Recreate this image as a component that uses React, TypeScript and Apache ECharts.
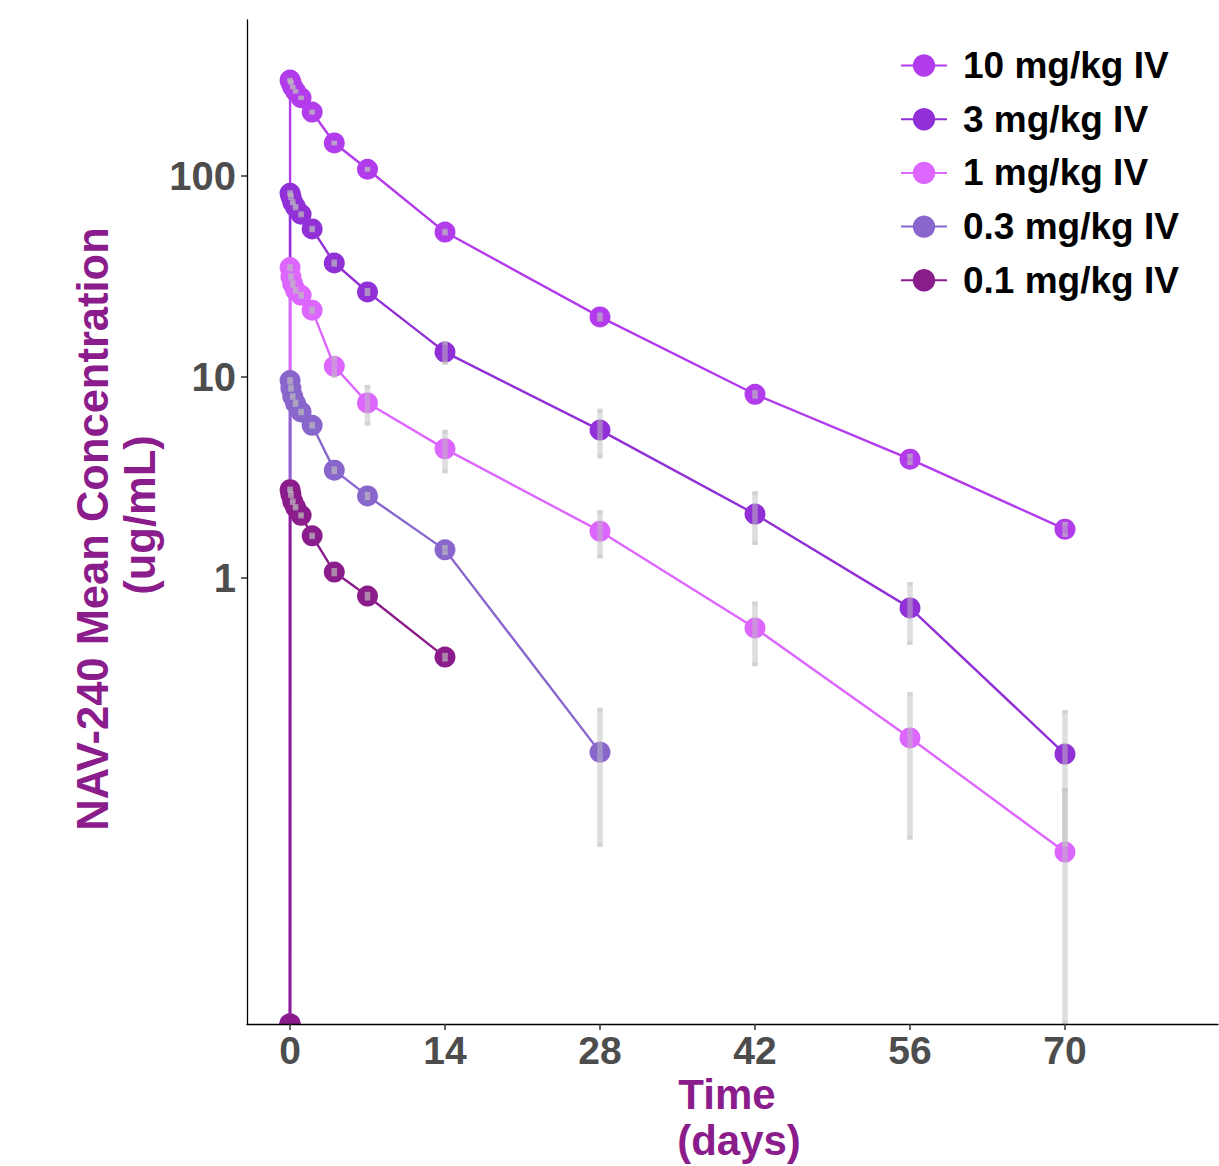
import React, { useEffect, useRef } from "react";
import * as echarts from "echarts";

// Sampling times (days)
const times = [0, 0.007, 0.083, 0.25, 0.5, 1, 2, 4, 7, 14, 28, 42, 56, 70];
const doseLabels = ["10 mg/kg IV", "3 mg/kg IV", "1 mg/kg IV", "0.3 mg/kg IV", "0.1 mg/kg IV"];
const doseColors = ["#B23CEB", "#9130D6", "#DD66FF", "#8866CC", "#8B1C8B"];

// Mean concentrations (ug/mL); 0 = below the log scale (drawn at the panel floor); null = not sampled
const mean10 = [0, 300, 292, 277, 264, 245, 208, 146, 108, 52.6, 19.9, 8.2, 3.9, 1.75];
const sd10 = [0, 8, 8, 7, 7, 6, 6, 4, 3, 2, 1, 0.4, 0.25, 0.15];
const mean3 = [0, 82, 79, 74, 70, 64.5, 54.5, 36.9, 26.5, 13.3, 5.44, 2.08, 0.71, 0.133];
const sd3 = [0, 3, 3, 2.5, 2.5, 2.2, 2, 1.5, 1.2, 1.8, 1.5, 0.62, 0.245, 0.087];
const mean1 = [0, 35, 31.5, 29, 27, 25.5, 21.5, 11.3, 7.43, 4.39, 1.71, 0.564, 0.16, 0.0433];
const sd1 = [0, 1.4, 1.3, 1.2, 1, 1, 0.9, 1.4, 1.7, 1.07, 0.46, 0.2, 0.11, 0.047];
const mean03 = [0, 9.6, 8.8, 8.0, 7.4, 6.7, 5.75, 3.44, 2.56, 1.38, 0.136, null, null, null];
const sd03 = [0, 0.4, 0.35, 0.3, 0.3, 0.25, 0.22, 0.15, 0.12, 0.08, 0.09, null, null, null];
const mean01 = [0, 2.75, 2.6, 2.4, 2.25, 2.05, 1.62, 1.07, 0.813, 0.404, null, null, null, null];
const sd01 = [0, 0.1, 0.1, 0.09, 0.08, 0.07, 0.06, 0.05, 0.04, 0.02, null, null, null, null];

const means = [mean10, mean3, mean1, mean03, mean01];
const sds = [sd10, sd3, sd1, sd03, sd01];

const xTicks = [0, 14, 28, 42, 56, 70];
const yTicks = [1, 10, 100];

const YMIN = Math.pow(10, -2.219);
const YMAX = Math.pow(10, 2.776);
const XMIN = -3.884;
const XMAX = 83.82;

const FONT = "'Liberation Sans', Arial, Helvetica, sans-serif";
const TITLE_COLOR = "#8B1C8B";

export default function App() {
  const ref = useRef<HTMLDivElement>(null);
  useEffect(() => {
    const chart = echarts.init(ref.current!, null, { renderer: "svg" });

    const lineSeries = means.map((m, k) => ({
      name: doseLabels[k],
      type: "line",
      z: 2,
      clip: false,
      data: times
        .map((t, i) => (m[i] == null ? null : [t, m[i] === 0 ? YMIN : m[i]]))
        .filter((d) => d !== null),
      symbol: "circle",
      symbolSize: 21,
      showAllSymbol: true,
      itemStyle: { color: doseColors[k] },
      lineStyle: { color: doseColors[k], width: 2.4 },
      emphasis: { disabled: true },
    }));

    const errData: number[][] = [];
    means.forEach((m, k) => {
      times.forEach((t, i) => {
        const v = m[i];
        const s = sds[k][i];
        if (v == null || s == null || v === 0) return;
        const lo = v - s <= 0 ? YMIN : v - s;
        errData.push([t, lo, v + s]);
      });
    });

    const errSeries = {
      type: "custom",
      z: 4,
      clip: true,
      silent: true,
      data: errData,
      encode: { x: 0, y: [1, 2] },
      renderItem: (params: any, api: any) => {
        const x = api.value(0);
        const lo = api.value(1);
        const hi = api.value(2);
        const pHi = api.coord([x, hi]);
        const pLo = api.coord([x, lo]);
        const w = 5.5;
        const fill = "rgba(190,190,190,0.5)";
        return {
          type: "group",
          children: [
            {
              type: "rect",
              shape: { x: pHi[0] - w / 2, y: pHi[1], width: w, height: pLo[1] - pHi[1] },
              style: { fill },
            },
            {
              type: "rect",
              shape: { x: pHi[0] - w / 2, y: pHi[1], width: w, height: 4 },
              style: { fill: "rgba(190,190,190,0.35)" },
            },
            {
              type: "rect",
              shape: { x: pHi[0] - w / 2, y: pLo[1] - 4, width: w, height: 4 },
              style: { fill: "rgba(190,190,190,0.35)" },
            },
          ],
        };
      },
    };

    const option: any = {
      animation: false,
      backgroundColor: "#ffffff",
      textStyle: { fontFamily: FONT },
      grid: { left: 247, top: 20, right: 1, bottom: 142, containLabel: false, outerBoundsMode: "none" },
      legend: {
        data: doseLabels,
        orient: "vertical",
        left: 895,
        top: 42,
        itemWidth: 46,
        itemHeight: 28,
        itemGap: 16.7,
        selectedMode: false,
        textStyle: {
          fontFamily: FONT,
          fontSize: 37,
          fontWeight: "bold",
          color: "#000000",
          lineHeight: 36,
          padding: [0, 0, 0, 11],
        },
      },
      xAxis: {
        type: "value",
        min: XMIN,
        max: XMAX,
        z: 10,
        axisLine: { show: true, onZero: false, lineStyle: { color: "#000000", width: 1.3 } },
        axisTick: { show: true, customValues: xTicks, length: 6, lineStyle: { color: "#333333", width: 1.5 } },
        axisLabel: {
          customValues: xTicks,
          margin: 7,
          fontSize: 39,
          fontWeight: "bold",
          color: "#4D4D4D",
          fontFamily: FONT,
          formatter: (v: number) => String(Math.round(v)),
        },
        splitLine: { show: false },
      },
      yAxis: {
        type: "log",
        logBase: 10,
        min: YMIN,
        max: YMAX,
        z: 10,
        axisLine: { show: true, onZero: false, lineStyle: { color: "#000000", width: 1.3 } },
        axisTick: { show: true, customValues: yTicks, length: 6, lineStyle: { color: "#333333", width: 1.5 } },
        axisLabel: {
          customValues: yTicks,
          margin: 11,
          fontSize: 40,
          fontWeight: "bold",
          color: "#4D4D4D",
          fontFamily: FONT,
          formatter: (v: number) => String(Math.round(v)),
        },
        splitLine: { show: false },
      },
      graphic: [
        {
          type: "rect",
          z: 5,
          shape: { x: 276, y: 1025, width: 28, height: 12 },
          style: { fill: "#ffffff" },
        },
        {
          type: "text",
          x: 727,
          y: 1094,
          style: {
            text: "Time",
            fontFamily: FONT,
            fontSize: 42,
            fontWeight: "bold",
            fill: TITLE_COLOR,
            textAlign: "center",
            textVerticalAlign: "middle",
          },
        },
        {
          type: "text",
          x: 739,
          y: 1140,
          style: {
            text: "(days)",
            fontFamily: FONT,
            fontSize: 42,
            fontWeight: "bold",
            fill: TITLE_COLOR,
            textAlign: "center",
            textVerticalAlign: "middle",
          },
        },
        {
          type: "text",
          x: 93,
          y: 529,
          rotation: Math.PI / 2,
          style: {
            text: "NAV-240 Mean Concentration",
            fontFamily: FONT,
            fontSize: 43.5,
            fontWeight: "bold",
            fill: TITLE_COLOR,
            textAlign: "center",
            textVerticalAlign: "middle",
          },
        },
        {
          type: "text",
          x: 140,
          y: 515,
          rotation: Math.PI / 2,
          style: {
            text: "(ug/mL)",
            fontFamily: FONT,
            fontSize: 43.5,
            fontWeight: "bold",
            fill: TITLE_COLOR,
            textAlign: "center",
            textVerticalAlign: "middle",
          },
        },
      ],
      series: [...lineSeries, errSeries],
    };

    chart.setOption(option);
    return () => chart.dispose();
  }, []);

  return (
    <div
      ref={ref}
      style={{ position: "absolute", left: 0, top: 0, width: 1219, height: 1166, background: "#ffffff" }}
    />
  );
}
